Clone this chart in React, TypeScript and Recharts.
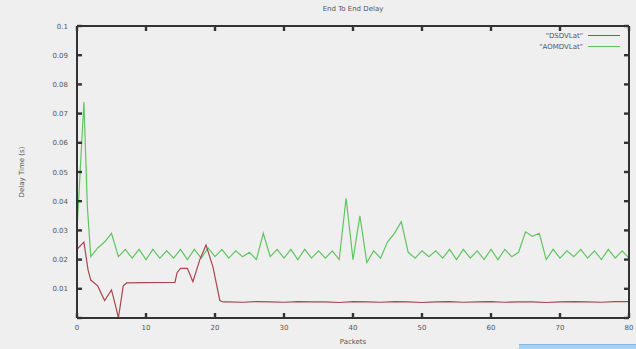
import React from "react";
import { LineChart, Line, XAxis, YAxis } from "recharts";

const chartTitle = "End To End Delay";
const xAxisLabel = "Packets";
const yAxisLabel = "Delay Time (s)";
const seriesNames = ['"DSDVLat"', '"AOMDVLat"'];
const seriesColors = ["#a8474f", "#62c462"];

const xTicks = [0, 10, 20, 30, 40, 50, 60, 70, 80];
const yTicks = [0, 0.01, 0.02, 0.03, 0.04, 0.05, 0.06, 0.07, 0.08, 0.09, 0.1];

const dsdvPackets = [
  0, 1, 1.6, 2, 3, 4, 5, 5.5, 6, 6.7, 7.2, 10, 14.2, 14.5, 15, 16, 16.8, 17.8, 18.7, 19.7, 20.7, 21.2,
  22, 24, 26, 28, 30, 32, 34, 36, 38, 40, 42, 44, 46, 48, 50, 52, 54, 56, 58, 60, 62, 64, 66, 68, 70,
  72, 74, 76, 78, 80,
];
const dsdvDelay = [
  0.0235, 0.026, 0.0165, 0.013, 0.011, 0.006, 0.0096, 0.005, 0.0, 0.011, 0.012, 0.0121, 0.0122, 0.0155,
  0.017, 0.017, 0.0124, 0.02, 0.025, 0.0175, 0.006, 0.0055,
  0.0055, 0.0054, 0.0056, 0.0055, 0.0054, 0.0056, 0.0055, 0.0055, 0.0053, 0.0056, 0.0055, 0.0054,
  0.0056, 0.0055, 0.0053, 0.0055, 0.0056, 0.0054, 0.0055, 0.0056, 0.0054, 0.0055, 0.0055, 0.0053,
  0.0055, 0.0056, 0.0055, 0.0054, 0.0056, 0.0056,
];

const aomdvPackets = [
  0, 1, 1.5, 2, 3, 4, 5, 6, 7, 8, 9, 10, 11, 12, 13, 14, 15, 16, 17, 18, 19, 20, 21, 22, 23, 24, 25,
  26, 27, 28, 29, 30, 31, 32, 33, 34, 35, 36, 37, 38, 39, 40, 41, 42, 43, 44, 45, 46, 47, 48, 49, 50,
  51, 52, 53, 54, 55, 56, 57, 58, 59, 60, 61, 62, 63, 64, 65, 66, 67, 68, 69, 70, 71, 72, 73, 74, 75,
  76, 77, 78, 79, 80,
];
const aomdvDelay = [
  0.03, 0.074, 0.038, 0.021, 0.024, 0.026, 0.029, 0.021, 0.0235, 0.0205, 0.0235, 0.02, 0.0235, 0.0205,
  0.023, 0.0205, 0.0235, 0.02, 0.0235, 0.0205, 0.024, 0.021, 0.0235, 0.0205, 0.023, 0.021, 0.0225,
  0.02, 0.029, 0.021, 0.0235, 0.0205, 0.0235, 0.02, 0.0235, 0.0205, 0.023, 0.0205, 0.023, 0.02,
  0.041, 0.02, 0.035, 0.019, 0.023, 0.0205, 0.026, 0.029, 0.033, 0.0225, 0.0205, 0.023, 0.021, 0.023,
  0.0205, 0.0235, 0.02, 0.0235, 0.0205, 0.023, 0.02, 0.0235, 0.02, 0.0235, 0.021, 0.0225, 0.0295,
  0.028, 0.029, 0.02, 0.0235, 0.0205, 0.023, 0.021, 0.0235, 0.0205, 0.023, 0.02, 0.0235, 0.0205,
  0.023, 0.0205,
];

const dsdvData = dsdvPackets.map((p, i) => ({ packet: p, delay: dsdvDelay[i] }));
const aomdvData = aomdvPackets.map((p, i) => ({ packet: p, delay: aomdvDelay[i] }));

const FRAME = "#333333";
const TEXT = "#555555";
const FONT = "'DejaVu Sans', sans-serif";

const fmtY = (v: number) => (v === 0 ? "" : String(Number(v.toFixed(2))));

const BottomTick = (props: any) => {
  const { x, y, payload } = props;
  return (
    <g>
      <rect x={x - 1.2} y={y - 5} width={2.4} height={5} fill={FRAME} />
      <text x={x} y={y + 12} textAnchor="middle" fontSize={7} fill={TEXT} fontFamily={FONT}>
        {payload.value}
      </text>
    </g>
  );
};

const TopTick = (props: any) => {
  const { x, y } = props;
  return <rect x={x - 1.2} y={y} width={2.4} height={5} fill={FRAME} />;
};

const LeftTick = (props: any) => {
  const { x, y, payload } = props;
  return (
    <g>
      <rect x={x} y={y - 1.2} width={5} height={2.4} fill={FRAME} />
      <text x={x - 9} y={y + 2.5} textAnchor="end" fontSize={7} fill={TEXT} fontFamily={FONT}>
        {fmtY(payload.value)}
      </text>
    </g>
  );
};

const RightTick = (props: any) => {
  const { x, y } = props;
  return <rect x={x - 5} y={y - 1.2} width={5} height={2.4} fill={FRAME} />;
};

export default function App() {
  return (
    <div
      style={{
        position: "absolute",
        left: 0,
        top: 0,
        width: 636,
        height: 349,
        background: "#efefef",
        overflow: "hidden",
        fontFamily: FONT,
      }}
    >
      <LineChart width={636} height={349} margin={{ top: 25, right: 6, bottom: 30, left: 76 }}>
        <XAxis
          xAxisId="bottom"
          dataKey="packet"
          type="number"
          domain={[0, 80]}
          ticks={xTicks}
          interval={0}
          height={1}
          tickSize={0}
          tickMargin={0}
          tickLine={false}
          axisLine={{ stroke: FRAME, strokeWidth: 2 }}
          tick={<BottomTick />}
          allowDataOverflow
        />
        <XAxis
          xAxisId="top"
          orientation="top"
          dataKey="packet"
          type="number"
          domain={[0, 80]}
          ticks={xTicks}
          interval={0}
          height={1}
          tickSize={0}
          tickMargin={0}
          tickLine={false}
          axisLine={{ stroke: FRAME, strokeWidth: 2 }}
          tick={<TopTick />}
          allowDataOverflow
        />
        <YAxis
          yAxisId="left"
          type="number"
          domain={[0, 0.1]}
          ticks={yTicks}
          interval={0}
          width={1}
          tickSize={0}
          tickMargin={0}
          tickLine={false}
          axisLine={{ stroke: FRAME, strokeWidth: 2 }}
          tick={<LeftTick />}
          allowDataOverflow
        />
        <YAxis
          yAxisId="right"
          orientation="right"
          type="number"
          domain={[0, 0.1]}
          ticks={yTicks}
          interval={0}
          width={1}
          tickSize={0}
          tickMargin={0}
          tickLine={false}
          axisLine={{ stroke: FRAME, strokeWidth: 2 }}
          tick={<RightTick />}
          allowDataOverflow
        />
        <Line
          xAxisId="bottom"
          yAxisId="left"
          data={aomdvData}
          dataKey="delay"
          name={seriesNames[1]}
          stroke={seriesColors[1]}
          strokeWidth={1.2}
          dot={false}
          isAnimationActive={false}
        />
        <Line
          xAxisId="bottom"
          yAxisId="left"
          data={dsdvData}
          dataKey="delay"
          name={seriesNames[0]}
          stroke={seriesColors[0]}
          strokeWidth={1.2}
          dot={false}
          isAnimationActive={false}
        />
      </LineChart>

      <div
        style={{
          position: "absolute",
          left: 253,
          width: 200,
          top: 5,
          textAlign: "center",
          fontSize: 7,
          color: TEXT,
        }}
      >
        {chartTitle}
      </div>
      <div
        style={{
          position: "absolute",
          left: 253,
          width: 200,
          top: 338,
          textAlign: "center",
          fontSize: 7,
          color: TEXT,
        }}
      >
        {xAxisLabel}
      </div>
      <div
        style={{
          position: "absolute",
          left: 22 - 50,
          top: 172 - 5,
          width: 100,
          height: 10,
          lineHeight: "10px",
          textAlign: "center",
          fontSize: 7,
          color: TEXT,
          transform: "rotate(-90deg)",
        }}
      >
        {yAxisLabel}
      </div>

      {seriesNames.map((name, i) => (
        <div key={name}>
          <div
            style={{
              position: "absolute",
              left: 480,
              width: 103,
              top: 31 + i * 11,
              height: 10,
              lineHeight: "10px",
              textAlign: "right",
              fontSize: 7,
              color: TEXT,
            }}
          >
            {name}
          </div>
          <div
            style={{
              position: "absolute",
              left: 588,
              width: 32,
              top: 35 + i * 11,
              height: 1,
              background: seriesColors[i],
            }}
          />
        </div>
      ))}

      <div
        style={{
          position: "absolute",
          left: 519,
          top: 344,
          width: 117,
          height: 5,
          background: "#a9d2f2",
          borderTop: "1px solid #7fb6e6",
        }}
      />
    </div>
  );
}
